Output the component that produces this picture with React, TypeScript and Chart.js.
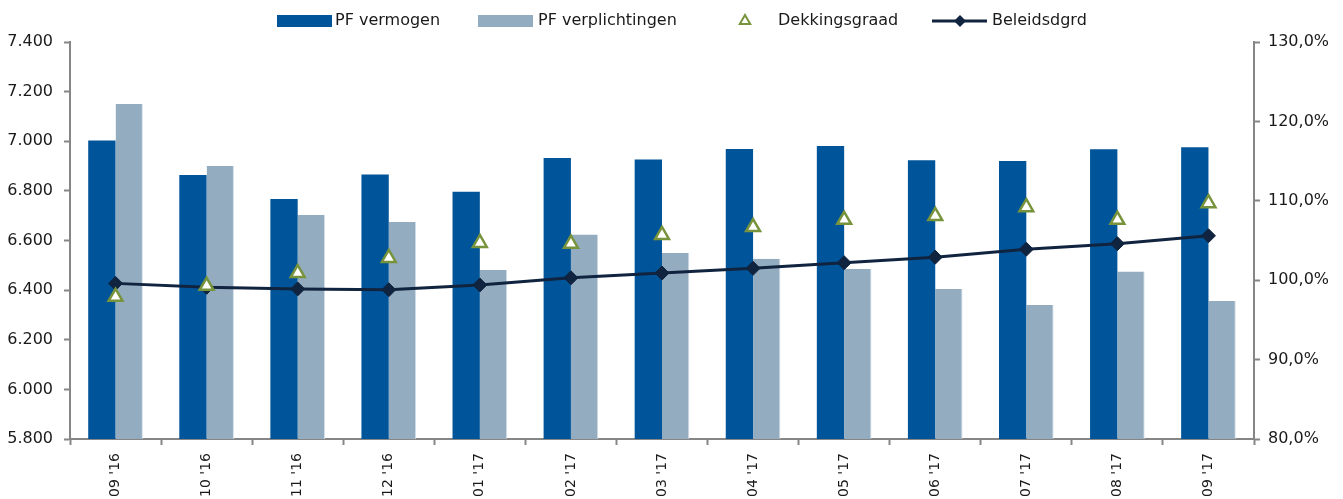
import React, { useEffect, useRef } from "react";
import { Chart, registerables } from "chart.js";

Chart.register(...registerables);

const categories = ["09 '16", "10 '16", "11 '16", "12 '16", "01 '17", "02 '17", "03 '17", "04 '17", "05 '17", "06 '17", "07 '17", "08 '17", "09 '17"];
const pfVermogen = [7003, 6864, 6767, 6866, 6796, 6932, 6926, 6969, 6981, 6923, 6920, 6968, 6976];
const pfVerplichtingen = [7150, 6900, 6703, 6675, 6481, 6624, 6550, 6526, 6485, 6405, 6340, 6475, 6356];
const dekkingsgraad = [97.9, 99.3, 100.9, 102.8, 104.7, 104.6, 105.7, 106.7, 107.6, 108.1, 109.2, 107.6, 109.7];
const beleidsdgrd = [99.6, 99.1, 98.9, 98.8, 99.4, 100.3, 100.9, 101.5, 102.2, 102.9, 103.9, 104.6, 105.6];
const leftTicks = { min: 5800, max: 7400, step: 200 };
const rightTicks = { min: 80, max: 130, step: 10 };

const DARK = "#00559A";
const LIGHT = "#93ACBF";
const NAVY = "#10243F";
const GREEN = "#77933C";
const AXIS = "#868686";
const TEXT = "#1a1a1a";
const FONT = "'DejaVu Sans', sans-serif";

const legendPlugin = {
  id: "customLegend",
  afterDraw(chart: any) {
    const ctx = chart.ctx;
    ctx.save();
    const y = 21;
    ctx.font = `16px ${FONT}`;
    ctx.textBaseline = "middle";
    ctx.textAlign = "left";
    ctx.fillStyle = DARK;
    ctx.fillRect(277, 15, 55, 12);
    ctx.fillStyle = TEXT;
    ctx.fillText("PF vermogen", 335, y);
    ctx.fillStyle = LIGHT;
    ctx.fillRect(478, 15, 55, 12);
    ctx.fillStyle = TEXT;
    ctx.fillText("PF verplichtingen", 538, y);
    const tx = 745, r = 6;
    ctx.beginPath();
    ctx.moveTo(tx, y - r);
    ctx.lineTo(tx + r * Math.sin(Math.PI * 2 / 3), y - r * Math.cos(Math.PI * 2 / 3));
    ctx.lineTo(tx + r * Math.sin(Math.PI * 4 / 3), y - r * Math.cos(Math.PI * 4 / 3));
    ctx.closePath();
    ctx.fillStyle = "#fff";
    ctx.fill();
    ctx.strokeStyle = GREEN;
    ctx.lineWidth = 2;
    ctx.stroke();
    ctx.fillStyle = TEXT;
    ctx.fillText("Dekkingsgraad", 778, y);
    ctx.beginPath();
    ctx.moveTo(932, y);
    ctx.lineTo(987, y);
    ctx.strokeStyle = NAVY;
    ctx.lineWidth = 3;
    ctx.stroke();
    const dx = 960, d = 6;
    ctx.beginPath();
    ctx.moveTo(dx - d, y);
    ctx.lineTo(dx, y - d);
    ctx.lineTo(dx + d, y);
    ctx.lineTo(dx, y + d);
    ctx.closePath();
    ctx.fillStyle = NAVY;
    ctx.fill();
    ctx.fillStyle = TEXT;
    ctx.fillText("Beleidsdgrd", 992, y);
    ctx.restore();
  },
};

export default function App() {
  const ref = useRef<HTMLCanvasElement | null>(null);
  useEffect(() => {
    document.body.style.margin = "0";
    const canvas = ref.current;
    if (!canvas) return;
    const chart = new Chart(canvas, {
      type: "bar",
      data: {
        labels: categories,
        datasets: [
          {
            type: "line",
            label: "Dekkingsgraad",
            data: dekkingsgraad,
            yAxisID: "y1",
            showLine: false,
            pointStyle: "triangle",
            pointRadius: 8,
            pointBorderWidth: 2.5,
            pointBackgroundColor: "#ffffff",
            pointBorderColor: GREEN,
            borderColor: GREEN,
            backgroundColor: "#ffffff",
            order: 0,
          } as any,
          {
            type: "line",
            label: "Beleidsdgrd",
            data: beleidsdgrd,
            yAxisID: "y1",
            borderColor: NAVY,
            borderWidth: 3,
            pointStyle: "rectRot",
            pointRadius: 7,
            pointBorderWidth: 1,
            pointBackgroundColor: NAVY,
            pointBorderColor: NAVY,
            tension: 0,
            order: 1,
          } as any,
          {
            type: "bar",
            label: "PF vermogen",
            data: pfVermogen,
            yAxisID: "y",
            backgroundColor: DARK,
            categoryPercentage: 0.6,
            barPercentage: 1.0,
            order: 2,
          },
          {
            type: "bar",
            label: "PF verplichtingen",
            data: pfVerplichtingen,
            yAxisID: "y",
            backgroundColor: LIGHT,
            borderColor: "#d3dee7",
            borderWidth: { right: 1, left: 0, top: 0, bottom: 0 },
            borderSkipped: false,
            categoryPercentage: 0.6,
            barPercentage: 1.0,
            order: 3,
          } as any,
        ],
      },
      options: {
        animation: false,
        responsive: false,
        maintainAspectRatio: false,
        layout: { padding: { top: 42, left: 0, right: 0, bottom: 0 } },
        plugins: {
          legend: { display: false },
          tooltip: { enabled: false },
        },
        scales: {
          x: {
            offset: true,
            grid: {
              offset: true,
              drawOnChartArea: false,
              drawTicks: true,
              tickLength: 6,
              tickColor: AXIS,
              tickWidth: 2,
            },
            border: { display: true, color: AXIS, width: 2 },
            ticks: {
              autoSkip: false,
              maxRotation: 90,
              minRotation: 90,
              padding: 8,
              color: TEXT,
              font: { family: FONT, size: 14 },
            },
            afterFit: (s: any) => {
              s.height = 60;
            },
          },
          y: {
            position: "left",
            min: leftTicks.min,
            max: leftTicks.max,
            grid: {
              drawOnChartArea: false,
              drawTicks: true,
              tickLength: 6,
              tickColor: AXIS,
              tickWidth: 2,
            },
            border: { display: true, color: AXIS, width: 2 },
            ticks: {
              stepSize: leftTicks.step,
              padding: 11,
              color: TEXT,
              font: { family: FONT, size: 16 },
              callback: (v: any) => {
                const n = Number(v);
                return Math.floor(n / 1000) + "." + String(n % 1000).padStart(3, "0");
              },
            },
            afterFit: (s: any) => {
              s.width = 70;
            },
          },
          y1: {
            position: "right",
            min: rightTicks.min,
            max: rightTicks.max,
            grid: {
              drawOnChartArea: false,
              drawTicks: true,
              tickLength: 6,
              tickColor: AXIS,
              tickWidth: 2,
            },
            border: { display: true, color: AXIS, width: 2 },
            ticks: {
              stepSize: rightTicks.step,
              padding: 8,
              color: TEXT,
              font: { family: FONT, size: 16 },
              callback: (v: any) => Number(v).toFixed(1).replace(".", ",") + "%",
            },
            afterFit: (s: any) => {
              s.width = 89;
            },
          },
        },
      },
      plugins: [legendPlugin],
    });
    return () => chart.destroy();
  }, []);
  return (
    <div style={{ width: 1343, height: 499 }}>
      <canvas ref={ref} width={1343} height={499} style={{ display: "block" }} />
    </div>
  );
}
